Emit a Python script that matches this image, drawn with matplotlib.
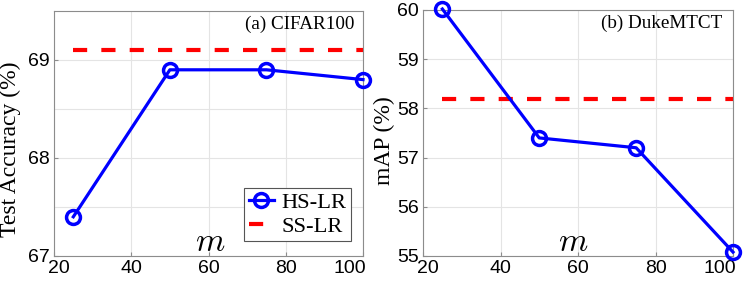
import matplotlib
matplotlib.use("Agg")
import matplotlib.pyplot as plt
from matplotlib.transforms import ScaledTranslation

# data
m_vals = [25, 50, 75, 100]
cifar_hslr = [67.4, 68.9, 68.9, 68.8]
cifar_sslr = 69.1
duke_hslr = [60.02, 57.4, 57.2, 55.08]
duke_sslr = 58.2

x_ticks = [20, 40, 60, 80, 100]
cifar_yticks = [67, 68, 69]
cifar_ygrid = [67.5, 68.5]
duke_yticks = [55, 56, 57, 58, 59, 60]

plt.rcParams['mathtext.fontset'] = 'cm'
SERIF = 'Liberation Serif'
SANS = 'Liberation Sans'
SPINE = '#8c8c8c'
GRID = '#e4e4e4'

fig = plt.figure(figsize=(7.47, 2.82), dpi=100)
W, H = 747.0, 282.0
ax1 = fig.add_axes([54 / W, (H - 256) / H, 309 / W, 245 / H])
ax2 = fig.add_axes([423 / W, (H - 256) / H, 310 / W, 246 / H])


def style_axes(ax, ylim, yticks, ygrid):
    ax.set_xlim(20, 100)
    ax.set_ylim(*ylim)
    ax.set_xticks(x_ticks)
    ax.set_yticks(yticks)
    ax.set_yticks(ygrid, minor=True)
    ax.grid(True, which='major', color=GRID, lw=0.8, zorder=0)
    ax.grid(True, which='minor', axis='y', color=GRID, lw=0.8, zorder=0)
    ax.set_axisbelow(True)
    for s in ax.spines.values():
        s.set_color(SPINE)
        s.set_linewidth(0.8)
    ax.tick_params(which='both', direction='in', length=3, color=SPINE,
                   labelsize=14, pad=3)
    ax.tick_params(which='minor', length=0)
    for lab in ax.get_xticklabels() + ax.get_yticklabels():
        lab.set_family(SANS)
    xl = ax.get_xticklabels()
    xl[0].set_horizontalalignment('left')
    xl[0].set_transform(xl[0].get_transform() +
                        ScaledTranslation(-4 / 72, 0, fig.dpi_scale_trans))
    xl[-1].set_horizontalalignment('right')
    xl[-1].set_transform(xl[-1].get_transform() +
                         ScaledTranslation(2 / 72, 0, fig.dpi_scale_trans))


def draw(ax, y, ref):
    # SS-LR baseline only spans the tested m range
    ax.plot([m_vals[0], m_vals[-1]], [ref, ref], color='#ff0000', lw=3,
            dashes=(3.4, 3.4), zorder=2, label='SS-LR')
    ax.plot(m_vals, y, color='#0000ff', lw=2.3, marker='o', ms=10,
            mfc='none', mew=2.5, clip_on=False, zorder=3, label='HS-LR')


# (a) CIFAR100
draw(ax1, cifar_hslr, cifar_sslr)
style_axes(ax1, (67, 69.5), cifar_yticks, cifar_ygrid)
ax1.set_ylabel('Test Accuracy (%)', family=SERIF, fontsize=17)
ax1.yaxis.set_label_coords(-0.107, 0.437)
ax1.text(0.971, 0.947, '(a) CIFAR100', transform=ax1.transAxes, ha='right',
         va='center', family=SERIF, fontsize=13.8)
ax1.text(0.505, 0.06, '$m$', transform=ax1.transAxes, ha='center',
         va='center', fontsize=24)
h, l = ax1.get_legend_handles_labels()
leg = ax1.legend(h[::-1], l[::-1], loc='lower right',
                 bbox_to_anchor=(0.961, 0.061), frameon=True, fancybox=False,
                 edgecolor='#555555', framealpha=1, borderpad=0.2,
                 labelspacing=0.12, handlelength=1.1, handletextpad=0.35,
                 borderaxespad=0, prop={'family': SERIF, 'size': 16.2})
leg.get_frame().set_linewidth(0.8)

# (b) DukeMTCT
draw(ax2, duke_hslr, duke_sslr)
style_axes(ax2, (55, 60), duke_yticks, [])
ax2.set_ylabel('mAP (%)', family=SERIF, fontsize=17)
ax2.yaxis.set_label_coords(-0.09, 0.47)
ax2.text(0.965, 0.947, '(b) DukeMTCT', transform=ax2.transAxes, ha='right',
         va='center', family=SERIF, fontsize=13.8)
ax2.text(0.484, 0.06, '$m$', transform=ax2.transAxes, ha='center',
         va='center', fontsize=24)

fig.savefig('out.png', dpi=100)
